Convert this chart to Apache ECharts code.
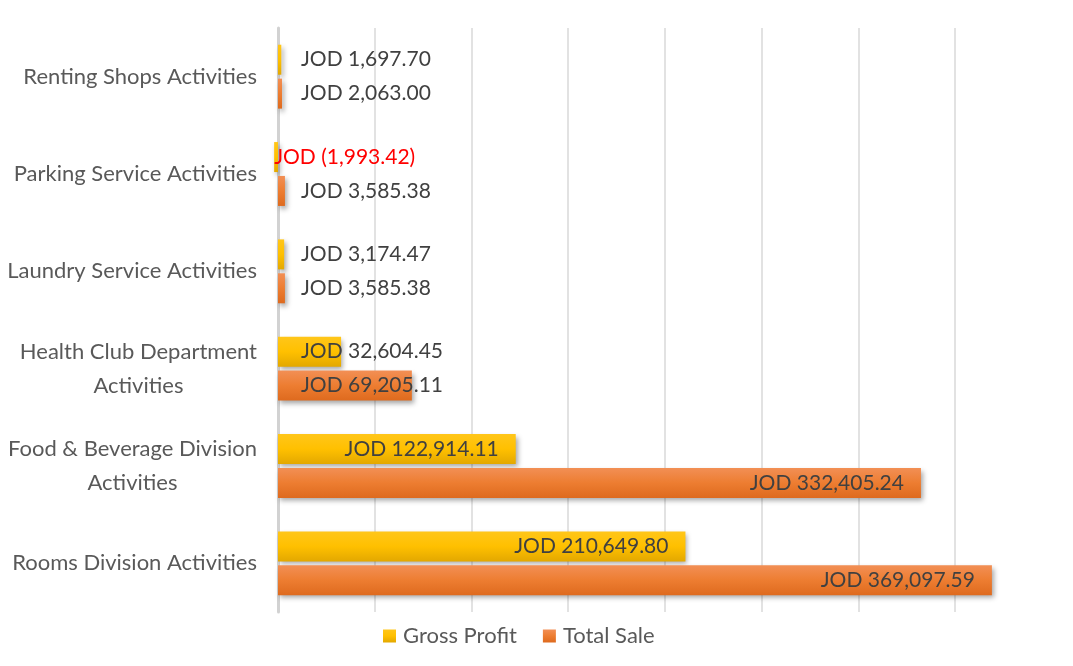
<!DOCTYPE html>
<html>
<head>
<meta charset="utf-8">
<style>
  html, body { margin: 0; padding: 0; background: #fff; }
  #chart { width: 1073px; height: 666px; }
</style>
<script src="https://cdn.jsdelivr.net/npm/echarts@6/dist/echarts.min.js"></script>
</head>
<body>
<div id="chart"></div>
<script>
// categories, top to bottom
const categories = [
  'Renting Shops Activities',
  'Parking Service Activities',
  'Laundry Service Activities',
  'Health Club Department\nActivities',
  'Food & Beverage Division\nActivities',
  'Rooms Division Activities'
]
const grossProfit = [1697.70, -1993.42, 3174.47, 32604.45, 122914.11, 210649.80]
const totalSale = [2063.00, 3585.38, 3585.38, 69205.11, 332405.24, 369097.59]
const seriesNames = ['Gross Profit', 'Total Sale']

const FONT = 'Lato, "Open Sans", sans-serif'

function money(v) {
  const parts = Math.abs(v).toFixed(2).split('.')
  const s = parts[0].replace(/\B(?=(\d{3})+(?!\d))/g, ',') + '.' + parts[1]
  return 'JOD ' + (v < 0 ? '(' + s + ')' : s)
}

// short bars get their label at the base, long ones inside the end
function toItems(values) {
  return values.map(v => {
    let label
    if (v < 0) {
      label = { position: 'insideLeft', distance: 0, color: '#ff0000' }
    } else if (v < 100000) {
      label = { position: 'insideLeft', distance: 23 }
    } else {
      label = { position: 'insideRight', distance: 17 }
    }
    return { value: v, label: label }
  })
}

function grad(top, mid, bottom) {
  return new echarts.graphic.LinearGradient(0, 0, 0, 1, [
    { offset: 0, color: top },
    { offset: 0.5, color: mid },
    { offset: 1, color: bottom }
  ])
}

const barBase = {
  type: 'bar',
  barWidth: 30,
  barGap: '13%',
  clip: false,
  label: {
    show: true,
    formatter: p => money(p.value),
    fontFamily: FONT,
    fontSize: 21,
    color: '#404040'
  }
}

const chart = echarts.init(document.getElementById('chart'))
chart.setOption({
  animation: false,
  textStyle: { fontFamily: FONT },
  grid: { left: 278, right: 60, top: 28, bottom: 54 },
  legend: {
    data: seriesNames,
    left: 378,
    top: 620,
    itemWidth: 13,
    itemHeight: 13,
    itemGap: 26,
    icon: 'rect',
    textStyle: { fontSize: 22, color: '#595959', fontFamily: FONT, padding: [0, 0, 0, 2] }
  },
  xAxis: {
    type: 'value',
    min: 0,
    max: 380000,
    interval: 50000,
    axisLabel: { show: false },
    axisLine: { show: false },
    axisTick: { show: false },
    splitLine: {
      show: true,
      showMinLine: false,
      showMaxLine: false,
      lineStyle: { color: '#d9d9d9', width: 1.5 }
    }
  },
  yAxis: {
    type: 'category',
    inverse: true,
    data: categories,
    axisLine: { show: true, lineStyle: { color: '#d2d2d2', width: 3 } },
    axisTick: { show: false },
    axisLabel: {
      margin: 21,
      fontSize: 22,
      color: '#595959',
      fontFamily: FONT,
      formatter: v => v.split('\n').map(l => '{c|' + l + '}').join('\n'),
      rich: {
        c: { align: 'center', fontSize: 22, color: '#595959', fontFamily: FONT, lineHeight: 34 }
      }
    }
  },
  series: [
    Object.assign({}, barBase, {
      name: seriesNames[0],
      data: toItems(grossProfit),
      itemStyle: {
        color: grad('#ffc61a', '#ffc000', '#e3a800'),
        shadowColor: 'rgba(0,0,0,0.35)',
        shadowBlur: 5,
        shadowOffsetX: 2,
        shadowOffsetY: 3
      }
    }),
    Object.assign({}, barBase, {
      name: seriesNames[1],
      data: toItems(totalSale),
      itemStyle: {
        color: grad('#f28f55', '#ed7d31', '#de6a1e'),
        shadowColor: 'rgba(0,0,0,0.35)',
        shadowBlur: 5,
        shadowOffsetX: 2,
        shadowOffsetY: 3
      }
    })
  ]
})
</script>
</body>
</html>
